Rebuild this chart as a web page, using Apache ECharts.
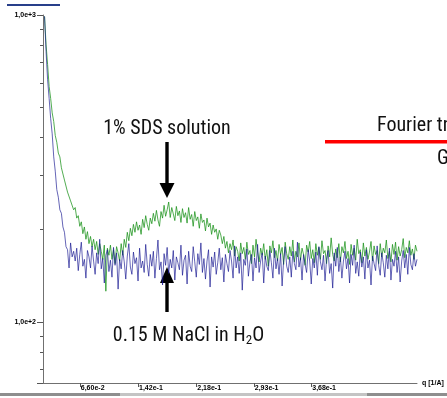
<!DOCTYPE html>
<html><head><meta charset="utf-8">
<script src="https://cdn.jsdelivr.net/npm/echarts@6/dist/echarts.min.js"></script>
<style>html,body{margin:0;padding:0;background:#fff;}#c{width:447px;height:398px;}</style>
</head><body><div id="c"></div>
<script>
// q grid [1/A]
const qValues = [
0.020,0.022,0.024,0.026,0.028,0.030,0.032,0.034,0.036,0.038,
0.040,0.042,0.044,0.046,0.048,0.050,0.052,0.054,0.056,0.058,
0.060,0.062,0.064,0.066,0.068,0.070,0.072,0.074,0.076,0.078,
0.080,0.082,0.084,0.086,0.088,0.090,0.092,0.094,0.096,0.098,
0.100,0.102,0.104,0.106,0.108,0.110,0.112,0.114,0.116,0.118,
0.120,0.122,0.124,0.126,0.128,0.130,0.132,0.134,0.136,0.138,
0.140,0.142,0.144,0.146,0.148,0.150,0.152,0.154,0.156,0.158,
0.160,0.162,0.164,0.166,0.168,0.170,0.172,0.174,0.176,0.178,
0.180,0.182,0.184,0.186,0.188,0.190,0.192,0.194,0.196,0.198,
0.200,0.202,0.204,0.206,0.208,0.210,0.212,0.214,0.216,0.218,
0.220,0.222,0.224,0.226,0.228,0.230,0.232,0.234,0.236,0.238,
0.240,0.242,0.244,0.246,0.248,0.250,0.252,0.254,0.256,0.258,
0.260,0.262,0.264,0.266,0.268,0.270,0.272,0.274,0.276,0.278,
0.280,0.282,0.284,0.286,0.288,0.290,0.292,0.294,0.296,0.298,
0.300,0.302,0.304,0.306,0.308,0.310,0.312,0.314,0.316,0.318,
0.320,0.322,0.324,0.326,0.328,0.330,0.332,0.334,0.336,0.338,
0.340,0.342,0.344,0.346,0.348,0.350,0.352,0.354,0.356,0.358,
0.360,0.362,0.364,0.366,0.368,0.370,0.372,0.374,0.376,0.378,
0.380,0.382,0.384,0.386,0.388,0.390,0.392,0.394,0.396,0.398,
0.400,0.402,0.404,0.406,0.408,0.410,0.412,0.414,0.416,0.418,
0.420,0.422,0.424,0.426,0.428,0.430,0.432,0.434,0.436,0.438,
0.440,0.442,0.444,0.446,0.448,0.450,0.452,0.454,0.456,0.458,
0.460,0.462,0.464,0.466,0.468,0.470,0.472,0.474,0.476,0.478,
0.480,0.482,0.484,0.486,0.488,0.490,0.492,0.494,0.496,0.498,
0.500,0.502,0.504,0.506
];
// 0.15 M NaCl in H2O (blue)
const naclIntensity = [
990,760,615,535,460,410,345,310,270,255,
232,226,204,196,176,172,150,181,163,170,
158,174,147,166,182,152,160,139,171,163,
150,177,158,143,168,155,186,149,161,134,
165,172,146,159,140,175,153,168,128,160,
149,171,157,138,164,180,151,143,169,155,
162,136,174,150,158,145,179,154,141,166,
152,170,139,161,185,148,157,132,167,153,
175,144,160,150,171,137,163,156,148,178,
142,159,165,133,170,152,146,176,157,140,
167,154,181,145,161,138,158,172,130,163,
151,169,143,156,174,148,162,135,166,155,
146,171,158,139,177,150,163,144,168,127,
160,153,173,141,157,166,136,162,150,179,
145,158,168,134,164,152,147,171,156,139,
174,149,161,143,167,131,159,176,152,145,
163,140,170,155,148,182,151,162,137,166,
154,145,172,158,133,161,150,169,142,176,
157,148,165,136,160,171,144,155,129,168,
152,175,146,163,139,158,170,149,161,134,
166,153,178,144,157,141,169,151,163,138,
172,150,159,132,164,155,147,177,153,142,
168,156,140,165,149,174,137,160,152,170,
145,163,135,158,171,150,166,143,175,154,
148,167,152,160
];
// 1% SDS solution (green)
const sdsIntensity = [
990,800,690,585,535,480,450,405,385,355,
345,318,315,290,288,265,266,248,250,232,
236,218,222,205,212,194,204,186,197,180,
190,176,186,172,183,166,180,170,160,178,
126,174,165,178,160,172,155,176,168,158,
180,165,186,175,196,184,202,191,208,196,
212,199,207,193,216,203,222,208,199,218,
209,226,213,231,215,205,229,218,240,221,
232,246,219,236,225,214,238,222,230,211,
234,219,227,210,236,216,224,205,229,214,
220,202,225,211,215,198,218,204,210,193,
207,196,201,186,199,192,180,190,174,183,
168,180,172,185,164,176,170,158,181,167,
175,160,182,166,171,155,178,163,186,169,
157,174,165,180,160,172,152,177,168,184,
162,171,158,179,166,175,154,182,167,160,
176,164,185,157,170,163,181,159,174,166,
153,178,169,183,161,172,156,180,165,175,
160,184,167,171,155,177,163,188,166,158,
173,162,180,157,176,168,183,161,170,154,
179,165,174,159,186,167,172,156,181,164,
175,160,169,183,158,177,166,171,155,180,
163,174,168,185,161,170,157,179,166,182,
159,176,164,172,187,162,175,168,184,165,
173,160,178,170
];
const xTickValues = [0.066, 0.142, 0.218, 0.293, 0.368];
const xTickLabels = ['6,60e-2','1,42e-1','2,18e-1','2,93e-1','3,68e-1'];
const yTickValues = [100, 1000];
const yTickLabels = ['1,0e+2','1,0e+3'];
const xRange = [0.018, 0.506];
const yRange = [63.3, 1000];

const chart = echarts.init(document.getElementById('c'), null, {renderer:'canvas'});
const pair = arr => qValues.map((q, i) => [q, arr[i]]);
const axisFont = {fontSize:7, fontWeight:'bold', color:'#000', fontFamily:'Liberation Sans, Arial, sans-serif'};
const annFont = "'Liberation Sans Narrow', 'Roboto Condensed', 'DejaVu Sans Condensed', Roboto, sans-serif";

function xLabel(v) {
  for (let k = 0; k < xTickValues.length; k++) if (Math.abs(v - xTickValues[k]) < 1e-9) return xTickLabels[k];
  return '';
}
function yLabel(v) {
  for (let k = 0; k < yTickValues.length; k++) if (Math.abs(v - yTickValues[k]) / yTickValues[k] < 1e-6) return yTickLabels[k];
  return '';
}

chart.setOption({
  animation: false,
  grid: {left:43, right:30, top:15, bottom:15},
  xAxis: {
    type:'value', min:xRange[0], max:xRange[1],
    name:'q [1/A]', nameLocation:'end', nameGap:5,
    nameTextStyle: Object.assign({verticalAlign:'middle', align:'left', padding:[3,0,0,0]}, axisFont),
    axisLine:{show:true, lineStyle:{color:'#707070', width:1}},
    axisTick:{show:true, customValues:xTickValues, length:4, lineStyle:{color:'#555'}},
    axisLabel: Object.assign({customValues:xTickValues, formatter:xLabel, align:'left', margin:2, padding:[0,0,0,1]}, axisFont),
    splitLine:{show:false}
  },
  yAxis: {
    type:'log', logBase:10, min:yRange[0], max:yRange[1],
    axisLine:{show:true, lineStyle:{color:'#707070', width:1}},
    axisTick:{show:true, length:6, lineStyle:{color:'#555'}},
    minorTick:{show:true, splitNumber:9, length:3, lineStyle:{color:'#555'}},
    axisLabel: Object.assign({formatter:yLabel, margin:7, showMinLabel:false}, axisFont),
    splitLine:{show:false}, minorSplitLine:{show:false}
  },
  series: [
    {type:'line', name:'1% SDS solution', data:pair(sdsIntensity), showSymbol:false, silent:true,
     lineStyle:{color:'#1a911a', width:1, opacity:0.75}},
    {type:'line', name:'0.15 M NaCl in H2O', data:pair(naclIntensity), showSymbol:false, silent:true,
     lineStyle:{color:'#12128f', width:1, opacity:0.65}}
  ],
  graphic: [
    {type:'rect', shape:{x:7, y:4, width:53, height:2}, style:{fill:'#283f8a'}},
    {type:'rect', shape:{x:0, y:393, width:447, height:3}, style:{fill:'#c4c4c4'}},
    {type:'rect', shape:{x:0, y:393, width:120, height:3}, style:{fill:'#8e8e8e'}},
    {type:'rect', shape:{x:367, y:393, width:80, height:3}, style:{fill:'#8e8e8e'}},
    {type:'rect', shape:{x:325, y:140, width:122, height:3.5}, style:{fill:'#ff0000'}},
    {type:'text', x:167, y:129, style:{text:'1% SDS solution', fontFamily:annFont, fontSize:20, fill:'#111', align:'center', verticalAlign:'middle'}},
    {type:'text', x:188.5, y:336, style:{text:'0.15 M NaCl in H{sub|2}O', fontFamily:annFont, fontSize:20, fill:'#111', align:'center', verticalAlign:'middle',
      rich:{sub:{fontFamily:annFont, fontSize:13, fill:'#111', padding:[9,0,0,0]}}}},
    {type:'text', x:377, y:126, style:{text:'Fourier transform', fontFamily:annFont, fontSize:20, fill:'#111', align:'left', verticalAlign:'middle'}},
    {type:'text', x:437, y:159, style:{text:'G', fontFamily:annFont, fontSize:20, fill:'#111', align:'left', verticalAlign:'middle'}},
    {type:'rect', shape:{x:165.3, y:142, width:3.4, height:43}, style:{fill:'#000'}},
    {type:'polygon', shape:{points:[[159.5,183],[174.5,183],[167,198]]}, style:{fill:'#000'}},
    {type:'polygon', shape:{points:[[167,267],[160,283],[174,283]]}, style:{fill:'#000'}},
    {type:'rect', shape:{x:165.3, y:282, width:3.4, height:30}, style:{fill:'#000'}}
  ]
});
</script>
</body></html>
